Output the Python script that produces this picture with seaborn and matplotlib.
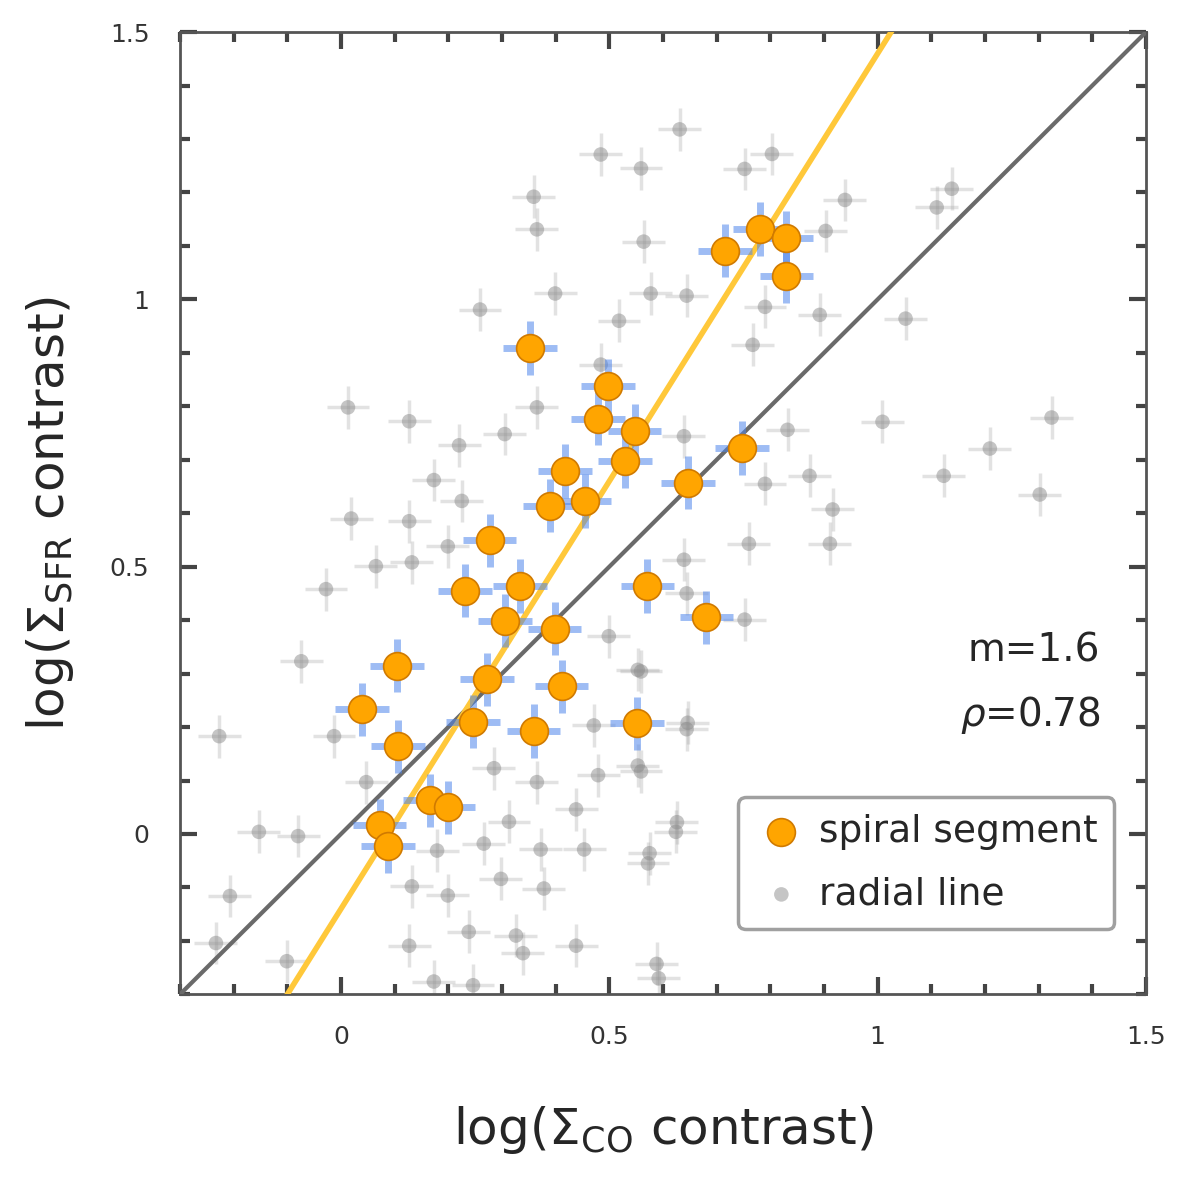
import numpy as np
import pandas as pd
import matplotlib
matplotlib.use("Agg")
import matplotlib.pyplot as plt
from matplotlib.ticker import MultipleLocator
import seaborn as sns

sns.set_style("ticks")
plt.rcParams['font.family'] = ['DejaVu Sans']

# spiral segment points (log Sigma_CO contrast, log Sigma_SFR contrast)
spiral_x = [0.352, 0.497, 0.479, 0.547, 0.529, 0.747, 0.646, 0.417, 0.389, 0.454,
            0.277, 0.231, 0.333, 0.305, 0.398, 0.411, 0.272, 0.571, 0.681, 0.551,
            0.359, 0.246, 0.104, 0.039, 0.106, 0.166, 0.199, 0.072, 0.087, 0.715,
            0.780, 0.830, 0.830]
spiral_y = [0.909, 0.838, 0.777, 0.754, 0.698, 0.722, 0.657, 0.679, 0.614, 0.623,
            0.549, 0.455, 0.464, 0.399, 0.384, 0.276, 0.289, 0.464, 0.405, 0.207,
            0.193, 0.210, 0.315, 0.233, 0.164, 0.063, 0.050, 0.016, -0.023, 1.091,
            1.132, 1.115, 1.044]

# radial line points
radial_x = [0.484, 0.559, 0.631, 0.359, 0.365, 0.564, 0.399, 0.518, 0.577, 0.644,
            0.259, 0.484, 0.365, 0.013, 0.127, 0.220, 0.305, 0.173, 0.225, 0.019,
            0.127, 0.199, 0.065, 0.132, -0.028, 0.644, 0.639,
            -0.227, -0.074, -0.153, -0.080, -0.207, -0.233, -0.101, 0.132, 0.199, 0.285,
            0.365, 0.479, 0.438, 0.624, 0.453, 0.572, 0.372, 0.298, 0.378, 0.238,
            0.326, 0.438, 0.127, 0.173, 0.246, 0.339, 0.592, 0.471, 0.644, 0.559,
            0.559, 0.313, 0.266, 0.179, 0.047, -0.013, 0.499,
            0.803, 0.752, 0.939, 1.138, 1.110, 0.903, 0.790, 0.892, 1.052, 0.767,
            1.009, 1.324, 1.209, 1.123, 1.302, 0.790, 0.873, 0.916, 0.760, 0.911,
            0.832, 0.639, 0.626, 0.575, 0.588, 0.752, 0.646, 0.553, 0.553]
radial_y = [1.271, 1.245, 1.318, 1.192, 1.131, 1.108, 1.011, 0.960, 1.011, 1.007,
            0.981, 0.878, 0.798, 0.798, 0.772, 0.727, 0.748, 0.662, 0.623, 0.590,
            0.585, 0.538, 0.501, 0.508, 0.458, 0.450, 0.744,
            0.183, 0.323, 0.004, -0.004, -0.116, -0.204, -0.238, -0.098, -0.115, 0.123,
            0.097, 0.110, 0.046, 0.004, -0.029, -0.055, -0.029, -0.084, -0.102, -0.183,
            -0.190, -0.209, -0.209, -0.276, -0.283, -0.223, -0.270, 0.203, 0.196, 0.304,
            0.117, 0.023, -0.018, -0.031, 0.097, 0.183, 0.370,
            1.272, 1.244, 1.186, 1.207, 1.172, 1.128, 0.986, 0.971, 0.964, 0.915,
            0.771, 0.779, 0.721, 0.670, 0.635, 0.655, 0.670, 0.607, 0.543, 0.543,
            0.756, 0.513, 0.022, -0.036, -0.243, 0.401, 0.208, 0.307, 0.128]

spiral_err = 0.05
radial_err = 0.04

fit_slope = 1.6
fit_icept = -0.14
rho = 0.78

spiral = pd.DataFrame({"co": spiral_x, "sfr": spiral_y})
radial = pd.DataFrame({"co": radial_x, "sfr": radial_y})

fig = plt.figure(figsize=(12, 11.88), dpi=100)
ax = fig.add_axes([0.15, 0.163, 0.805, 0.81])

# radial line: faint grey
ax.errorbar(radial["co"], radial["sfr"], xerr=radial_err, yerr=radial_err,
            fmt="none", ecolor="#a0a0a0", elinewidth=2.5, alpha=0.3, zorder=1)
sns.scatterplot(data=radial, x="co", y="sfr", ax=ax, s=110, color="#8c8c8c",
                alpha=0.5, edgecolor="none", label="radial line", zorder=2)

# lines
xx = np.array([-0.3, 1.5])
ax.plot(xx, xx, color="#6a6a6a", lw=3, zorder=3)
ax.plot(xx, fit_slope * xx + fit_icept, color="#ffc83a", lw=4, zorder=3)

# spiral segments
ax.errorbar(spiral["co"], spiral["sfr"], xerr=spiral_err, yerr=spiral_err,
            fmt="none", ecolor="#4f86ec", elinewidth=5, alpha=0.55, zorder=4)
sns.scatterplot(data=spiral, x="co", y="sfr", ax=ax, s=400, color="#ffa500",
                edgecolor="#d07a00", linewidth=1.2, label="spiral segment", zorder=5)

ax.set_xlim(-0.3, 1.5)
ax.set_ylim(-0.3, 1.5)
ax.xaxis.set_minor_locator(MultipleLocator(0.1))
ax.yaxis.set_minor_locator(MultipleLocator(0.1))
ax.set_xticks([0, 0.5, 1, 1.5])
ax.set_xticklabels(["0", "0.5", "1", "1.5"])
ax.set_yticks([0, 0.5, 1, 1.5])
ax.set_yticklabels(["0", "0.5", "1", "1.5"])
ax.tick_params(which="both", direction="in", top=True, right=True, labelsize=18,
               color="#444444", labelcolor="#333333", pad=22)
ax.tick_params(which="major", length=12, width=3)
ax.tick_params(which="minor", length=7, width=3)
for sp in ax.spines.values():
    sp.set_color("#555555")
    sp.set_linewidth(2)

ax.set_xlabel(r"log($\Sigma_{\rm CO}$ contrast)", fontsize=36, labelpad=40)
ax.set_ylabel(r"log($\Sigma_{\rm SFR}$ contrast)", fontsize=36, labelpad=24)

ax.text(1.415, 0.343, "m=1.6", ha="right", va="center", fontsize=28)
ax.text(1.415, 0.222, r"$\rho$=0.78", ha="right", va="center", fontsize=28)

h, l = ax.get_legend_handles_labels()
leg = ax.legend(h[::-1], l[::-1], loc="lower right", bbox_to_anchor=(0.975, 0.06),
                fontsize=27, frameon=True, fancybox=True, edgecolor="#888888",
                handletextpad=0.3, borderpad=0.45, labelspacing=0.7,
                handlelength=1.4, borderaxespad=0.2)
leg.get_frame().set_linewidth(2.5)

fig.savefig("out.png", dpi=100)
